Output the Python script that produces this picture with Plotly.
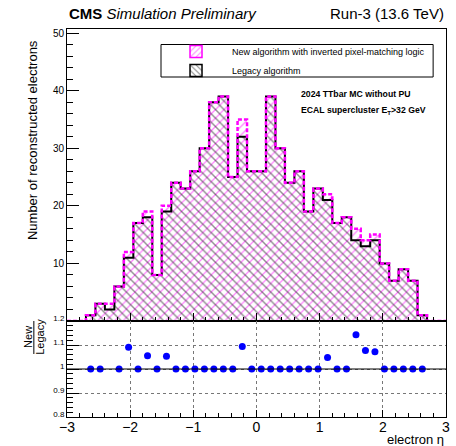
import numpy as np
import plotly.graph_objects as go

# ---------------- data ----------------
ETA_MIN, ETA_MAX, N_BINS = -3.0, 3.0, 40

legacy_counts = [0, 0, 1, 3, 2, 6, 11, 17, 18, 8, 19, 24, 23, 26, 30, 38, 39, 25, 32, 26,
                 26, 39, 30, 24, 26, 19, 23, 21, 17, 18, 14, 13, 14, 10, 7, 9, 7, 1, 0, 0]
new_counts = [0, 0, 1, 3, 3, 6, 12, 17, 19, 8, 20, 24, 23, 26, 30, 38, 39, 25, 35, 26,
              26, 39, 30, 24, 26, 19, 23, 22, 17, 18, 16, 14, 15, 10, 7, 9, 7, 1, 0, 0]

new_label = "New algorithm with inverted pixel-matching logic"
legacy_label = "Legacy algorithm"
y_title = "Number of reconstructed electrons"
x_title = "electron η"
info_lines = ["<b>2024 TTbar MC without PU</b>",
              "<b>ECAL supercluster E<sub>T</sub>&gt;32 GeV</b>"]

# ---------------- derived ----------------
edges = np.linspace(ETA_MIN, ETA_MAX, N_BINS + 1)
centers = 0.5 * (edges[:-1] + edges[1:])
bw = edges[1] - edges[0]
leg = np.array(legacy_counts, dtype=float)
new = np.array(new_counts, dtype=float)
ratio = np.where((leg > 0) & (new > 0), new / np.where(leg > 0, leg, 1), np.nan)

MAGENTA = "#ff00ff"
FONT = "Liberation Sans, Arial, Helvetica, sans-serif"

# pixel geometry helpers (figure 456x446)
W, H = 456, 446
L, R, T, B = 67, 6, 29, 29
PW, PH = W - L - R, H - T - B
def px(xp):
    return (xp - L) / PW
def py(yp):
    return (H - B - yp) / PH

split = py(321)

fig = go.Figure()

# hatched fills
fig.add_trace(go.Bar(x=centers, y=new, width=bw, xaxis="x", yaxis="y", showlegend=False,
                     marker=dict(color="rgba(0,0,0,0)", line=dict(width=0),
                                 pattern=dict(shape="/", fgcolor=MAGENTA, bgcolor="rgba(0,0,0,0)",
                                              size=6, solidity=0.2)),
                     hoverinfo="skip"))
fig.add_trace(go.Bar(x=centers, y=leg, width=bw, xaxis="x", yaxis="y", showlegend=False,
                     marker=dict(color="rgba(0,0,0,0)", line=dict(width=0),
                                 pattern=dict(shape="\\", fgcolor="#222222", bgcolor="rgba(0,0,0,0)",
                                              size=6, solidity=0.24)),
                     hoverinfo="skip"))
# step outlines
fig.add_trace(go.Scatter(x=edges, y=np.append(leg, leg[-1]), mode="lines", line_shape="hv",
                         line=dict(color="black", width=2), xaxis="x", yaxis="y",
                         showlegend=False, hoverinfo="skip"))
fig.add_trace(go.Scatter(x=edges, y=np.append(new, new[-1]), mode="lines", line_shape="hv",
                         line=dict(color=MAGENTA, width=2.5, dash="4px,2px"), xaxis="x", yaxis="y",
                         showlegend=False, hoverinfo="skip"))

# legend entries
fig.add_trace(go.Bar(x=[None], y=[None], name=new_label, xaxis="x", yaxis="y",
                     marker=dict(color="rgba(0,0,0,0)", line=dict(color=MAGENTA, width=1.5),
                                 pattern=dict(shape="/", fgcolor=MAGENTA, bgcolor="white",
                                              size=5, solidity=0.25))))
fig.add_trace(go.Bar(x=[None], y=[None], name=legacy_label, xaxis="x", yaxis="y",
                     marker=dict(color="rgba(0,0,0,0)", line=dict(color="black", width=1.5),
                                 pattern=dict(shape="\\", fgcolor="black", bgcolor="white",
                                              size=5, solidity=0.25))))

# ratio points
fig.add_trace(go.Scatter(x=centers, y=ratio, mode="markers", xaxis="x2", yaxis="y2",
                         marker=dict(color="#0000ff", size=7), showlegend=False,
                         hoverinfo="skip"))

axis_common = dict(showline=True, linecolor="black", linewidth=1, mirror=True,
                   zeroline=False, tickcolor="black",
                   tickfont=dict(family=FONT, color="black"))

fig.update_layout(
    width=W, height=H,
    margin=dict(l=L, r=R, t=T, b=B),
    paper_bgcolor="white", plot_bgcolor="white",
    barmode="overlay", bargap=0,
    font=dict(family=FONT, color="black"),
    xaxis=dict(domain=[0, 1], anchor="y", range=[ETA_MIN, ETA_MAX], matches="x2",
               showticklabels=False, ticks="inside", ticklen=8, dtick=1, tick0=0,
               showgrid=False,
               minor=dict(ticks="inside", ticklen=4, dtick=0.2, tick0=0, tickcolor="black",
                          showgrid=False),
               **axis_common),
    yaxis=dict(domain=[split, 1], anchor="x", range=[0, 50.7],
               tickmode="array", tickvals=[10, 20, 30, 40, 50],
               ticktext=["10", "20", "30", "40", "50"],
               ticks="inside", ticklen=12, showgrid=False,
               minor=dict(ticks="inside", ticklen=6, dtick=2, tick0=0, tickcolor="black",
                          showgrid=False),
               **{**axis_common, "tickfont": dict(family=FONT, color="black", size=10)}),
    xaxis2=dict(domain=[0, 1], anchor="y2", range=[ETA_MIN, ETA_MAX],
                ticks="inside", ticklen=7, dtick=1, tick0=0, ticklabelstandoff=-3,
                showgrid=True, gridcolor="#777777", griddash="dot", gridwidth=1,
                minor=dict(ticks="inside", ticklen=4, dtick=0.2, tick0=0, tickcolor="black",
                           showgrid=False),
                **{**axis_common, "tickfont": dict(family=FONT, color="black", size=14)}),
    yaxis2=dict(domain=[0, split], anchor="x2", range=[0.8, 1.2],
                tickmode="array", tickvals=[0.8, 0.9, 1.0, 1.1, 1.2],
                ticktext=["0.8", "0.9", "1", "1.1", "1.2"],
                ticks="inside", ticklen=12, ticklabelshift=-3,
                showgrid=True, gridcolor="#777777", griddash="dot", gridwidth=1,
                minor=dict(ticks="inside", ticklen=6, dtick=0.02, tick0=0.8, tickcolor="black",
                           showgrid=False),
                **{**axis_common, "tickfont": dict(family=FONT, color="black", size=8)}),
    legend=dict(x=px(161), y=py(37), xanchor="left", yanchor="top",
                bgcolor="rgba(0,0,0,0)", borderwidth=0, itemwidth=62,
                font=dict(family=FONT, size=9, color="black"), traceorder="normal"),
    showlegend=True,
)

shapes = [
    dict(type="rect", xref="paper", yref="paper", x0=px(162), x1=px(437), y0=py(77), y1=py(44.5),
         line=dict(color="black", width=1), fillcolor="white", layer="below"),
    dict(type="line", xref="x2 domain", yref="y2", x0=0, x1=1, y0=1, y1=1,
         line=dict(color="black", width=1)),
    dict(type="line", xref="paper", yref="paper", x0=px(33.5), x1=px(33.5), y0=py(321), y1=py(354),
         line=dict(color="black", width=1)),
]
fig.update_layout(shapes=shapes)

ann = [
    dict(text="<b>CMS</b> <i>Simulation Preliminary</i>", x=0, y=py(14), xref="paper", yref="paper",
         xanchor="left", yanchor="middle", showarrow=False, font=dict(size=15, family=FONT)),
    dict(text="Run-3 (13.6 TeV)", x=1, y=py(14), xref="paper", yref="paper",
         xanchor="right", yanchor="middle", showarrow=False, font=dict(size=15, family=FONT)),
    dict(text=y_title, textangle=-90, x=px(31.7), y=py(140), xref="paper", yref="paper",
         xanchor="center", yanchor="middle", showarrow=False, font=dict(size=13, family=FONT)),
    dict(text="New", textangle=-90, x=px(27.5), y=py(337), xref="paper", yref="paper",
         xanchor="center", yanchor="middle", showarrow=False, font=dict(size=11, family=FONT)),
    dict(text="Legacy", textangle=-90, x=px(39.5), y=py(337), xref="paper", yref="paper",
         xanchor="center", yanchor="middle", showarrow=False, font=dict(size=11, family=FONT)),
    dict(text=x_title, x=1, y=py(439), xref="paper", yref="paper",
         xanchor="right", yanchor="middle", showarrow=False, font=dict(size=13, family=FONT)),
    dict(text=info_lines[0], x=px(301.7), y=py(94), xref="paper", yref="paper",
         xanchor="left", yanchor="middle", showarrow=False, font=dict(size=8.7, family=FONT)),
    dict(text=info_lines[1], x=px(301.7), y=py(110), xref="paper", yref="paper",
         xanchor="left", yanchor="middle", showarrow=False, font=dict(size=8.7, family=FONT)),
]
fig.update_layout(annotations=ann)

fig.write_html("out.html")
